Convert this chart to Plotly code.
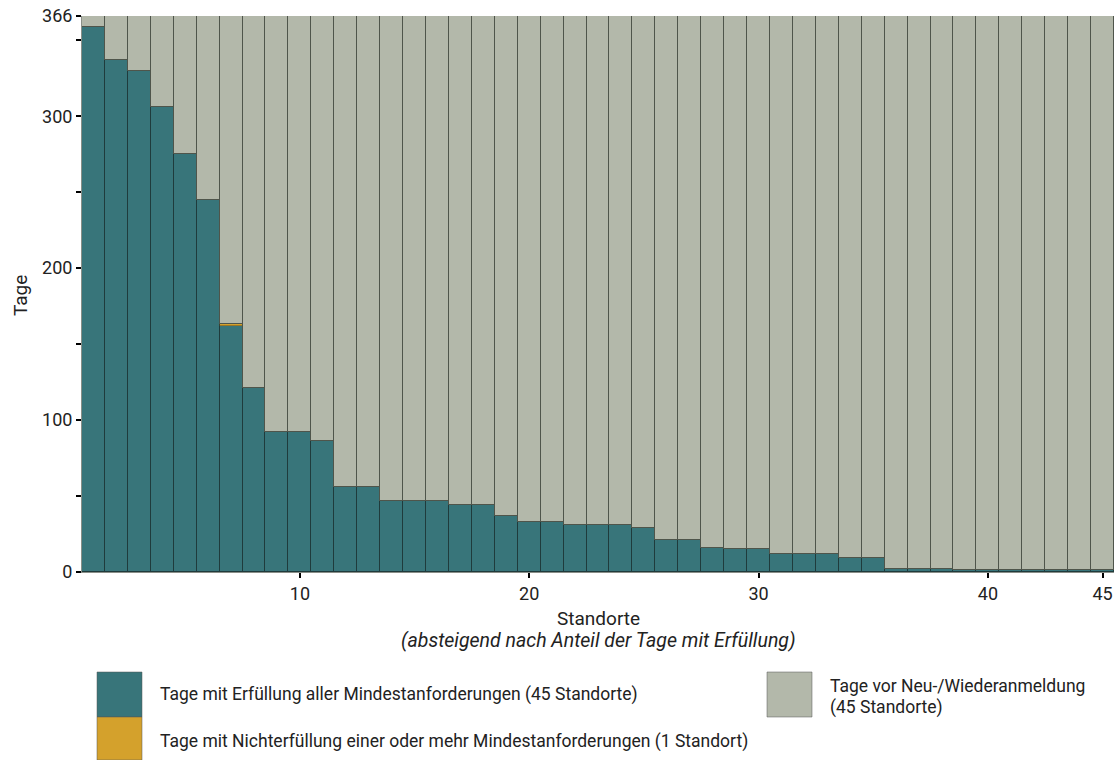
import plotly.graph_objects as go

standorte = list(range(1, 46))
erfuellung = [359, 337, 330, 306, 275, 245, 162, 121, 92, 92,
              86, 56, 56, 47, 47, 47, 44, 44, 37, 33,
              33, 31, 31, 31, 29, 21, 21, 16, 15, 15,
              12, 12, 12, 9, 9, 2, 2, 2, 1, 1,
              1, 1, 1, 1, 1]
nichterfuellung = [0] * 45
nichterfuellung[6] = 1
total_tage = 366
vor_anmeldung = [total_tage - a - b for a, b in zip(erfuellung, nichterfuellung)]

y_tickvals = [0, 50, 100, 150, 200, 250, 300, 350, 366]
y_ticktext = ["0", "", "100", "", "200", "", "300", "", "366"]
x_tickvals = [10, 20, 30, 40, 45]

c_teal = "#38757a"
c_orange = "#d4a12c"
c_gray = "#b3b8aa"

legend_items = [
    ("Tage mit Erfüllung aller Mindestanforderungen (45 Standorte)", c_teal),
    ("Tage mit Nichterfüllung einer oder mehr Mindestanforderungen (1 Standort)", c_orange),
    ("Tage vor Neu-/Wiederanmeldung", c_gray),
]
legend_extra_line = "(45 Standorte)"

FONT = "Roboto"

fig = go.Figure()
fig.add_trace(go.Bar(x=standorte, y=erfuellung, marker=dict(color=c_teal, line=dict(color="#1f3b3c", width=1)),
                     name=legend_items[0][0], showlegend=False))
fig.add_trace(go.Bar(x=standorte, y=nichterfuellung, marker=dict(color=c_orange, line=dict(color="#5a4a20", width=0.5)),
                     name=legend_items[1][0], showlegend=False))
fig.add_trace(go.Bar(x=standorte, y=vor_anmeldung, marker=dict(color=c_gray, line=dict(color="#4f554b", width=1)),
                     name=legend_items[2][0], showlegend=False))

fig.update_layout(
    barmode="stack", bargap=0,
    width=1116, height=760,
    margin=dict(l=82, r=2, t=16, b=188),
    plot_bgcolor="white", paper_bgcolor="white",
    font=dict(family=FONT, size=17, color="#222"),
)
fig.update_xaxes(range=[0.5, 45.5], tickvals=x_tickvals, ticks="outside", ticklen=5, tickwidth=2,
                 tickcolor="black", showline=True, linecolor="#8a8f88", linewidth=1, showgrid=False,
                 zeroline=False, tickfont=dict(size=18, family=FONT), ticklabeloverflow="allow")
fig.update_yaxes(range=[0, total_tage], tickvals=y_tickvals, ticktext=y_ticktext, ticks="outside", ticklen=5,
                 tickwidth=2, tickcolor="black", showline=True, linecolor="#8a8f88", linewidth=1,
                 showgrid=False, zeroline=False, tickfont=dict(size=18, family=FONT), ticklabeloverflow="allow")

def px_x(px):
    return (px - 82) / 1032

def px_y(py):
    return (572 - py) / 556

# y axis title
fig.add_annotation(text="Tage", xref="paper", yref="paper", x=px_x(20), y=px_y(296), showarrow=False,
                   textangle=-90, font=dict(size=19, family=FONT), xanchor="center", yanchor="middle")

# x axis title (two lines)
fig.add_annotation(text="Standorte", xref="paper", yref="paper", x=0.5, y=px_y(618), showarrow=False,
                   font=dict(size=19, family=FONT), yanchor="middle")
fig.add_annotation(text="<i>(absteigend nach Anteil der Tage mit Erfüllung)</i>", xref="paper", yref="paper",
                   x=0.5, y=px_y(641), showarrow=False, font=dict(size=19.5, family=FONT), yanchor="middle")

# legend
boxes = [
    (97, 142, 672, 717, 158, 694),
    (97, 142, 717, 760, 158, 742),
    (767, 812, 672, 717, 828, 686),
]
for (label, color), (x0, x1, y0, y1, tx, ty) in zip(legend_items, boxes):
    fig.add_shape(type="rect", xref="paper", yref="paper", x0=px_x(x0), x1=px_x(x1), y0=px_y(y1), y1=px_y(y0),
                  fillcolor=color, line=dict(color="#555", width=0.5))
    fig.add_annotation(text=label, xref="paper", yref="paper", x=px_x(tx), y=px_y(ty), showarrow=False,
                       xanchor="left", yanchor="middle", align="left", font=dict(size=17.5, family=FONT))
fig.add_annotation(text=legend_extra_line, xref="paper", yref="paper", x=px_x(828), y=px_y(707), showarrow=False,
                   xanchor="left", yanchor="middle", align="left", font=dict(size=17.5, family=FONT))

fig.write_html("out.html", config={"displayModeBar": False},
               post_script="document.body.style.margin='0';document.body.style.overflow='hidden';")
